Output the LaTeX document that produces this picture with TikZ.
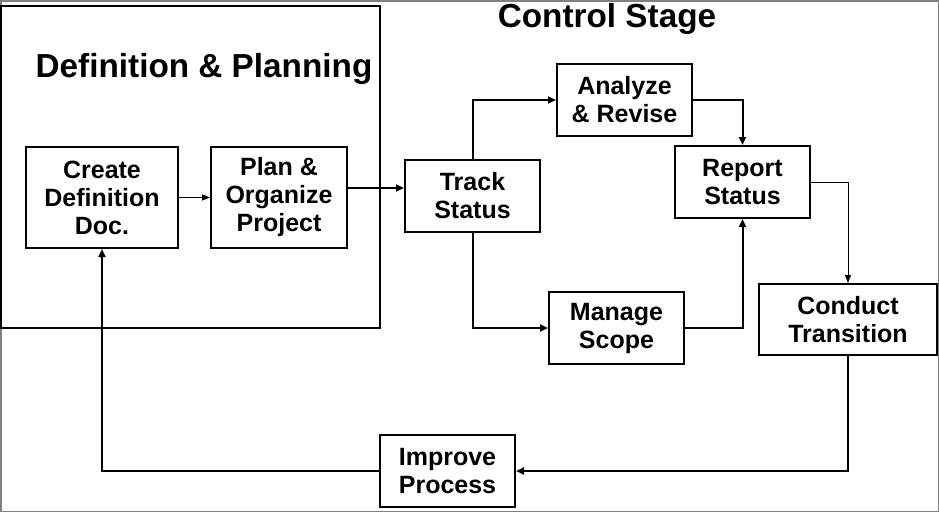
\documentclass[tikz,border=0pt]{standalone}
\usepackage{fontspec}
\setmainfont{Liberation Sans}
\usetikzlibrary{arrows.meta}
\begin{document}
\begin{tikzpicture}[x=1pt,y=-1pt,
  box/.style={draw=black, line width=2pt, fill=white, inner sep=0pt, align=center,
    font=\fontsize{25}{28}\selectfont\bfseries},
  title/.style={inner sep=0pt, font=\fontsize{33.3}{38}\selectfont\bfseries},
  thickline/.style={line width=2pt, -{Triangle[length=8pt,width=7pt]}},
  thinline/.style={line width=1pt, -{Triangle[length=8pt,width=6pt]}}]
\useasboundingbox (0,0) rectangle (939,512);
\draw[gray, line width=1.5pt] (0.75,0.75) rectangle (938.25,511.25);
% Definition & Planning frame
\node[draw=black, line width=2pt, minimum width=379pt, minimum height=322pt, inner sep=0pt] (defbox) at (190.5,167) {};
\node[title, anchor=base] (deftitle) at (204,77) {Definition \& Planning};
\node[title, anchor=base] (ctltitle) at (607,27) {Control Stage};
% boxes
\node[box, minimum width=152pt, minimum height=101pt] (create) at (102,197.5) {Create\\Definition\\Doc.};
\node[box, minimum width=136pt, minimum height=101pt] (plan) at (279,197.5) {Plan \&\\Organize\\Project};
\node[box, minimum width=135pt, minimum height=72pt] (track) at (472.5,196) {Track\\Status};
\node[box, minimum width=135pt, minimum height=72pt] (analyze) at (624.5,100) {Analyze\\\& Revise};
\node[box, minimum width=135pt, minimum height=72pt] (report) at (742.5,182) {Report\\Status};
\node[box, minimum width=135pt, minimum height=72pt] (manage) at (616.5,328) {Manage\\Scope};
\node[box, minimum width=178pt, minimum height=71pt] (conduct) at (848,319.5) {Conduct\\Transition};
\node[box, minimum width=135pt, minimum height=72pt] (improve) at (447.5,471) {Improve\\Process};
% connectors
\draw[thinline] (create.east) -- (plan.west);
\draw[thickline] ([yshift=9.5pt]plan.east) -- ([yshift=9.5pt]plan.east -| track.west);
\draw[thickline] (track.north) |- (analyze.west);
\draw[thickline] (analyze.east) -| (report.north);
\draw[thickline] (track.south) |- (manage.west);
\draw[thickline] (manage.east) -| (report.south);
\draw[thinline] (report.east) -| (conduct.north);
\draw[thickline] (conduct.south) |- (improve.east);
\draw[thickline] (improve.west) -| (create.south);
\end{tikzpicture}
\end{document}
